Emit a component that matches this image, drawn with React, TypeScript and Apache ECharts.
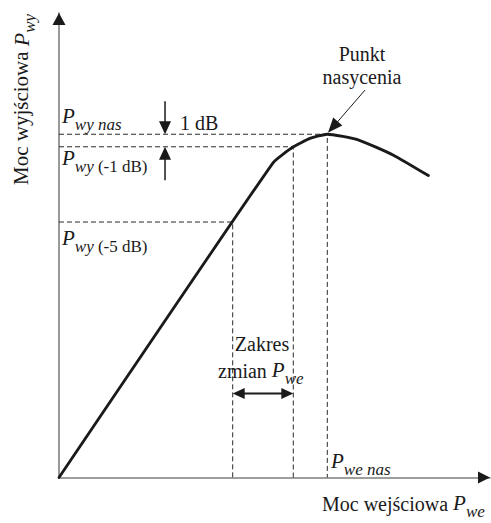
import React, { useEffect, useRef } from 'react';
import * as echarts from 'echarts';

// ---- data (chart units: both axes 0..100) ----
const curveX = [0, 49.7, 54.36, 58.24, 62.25, 69.4, 77.6, 85.7];
const curveY = [0, 67.8, 71.2, 73.0, 73.9, 72.7, 69.4, 65.0];

const satPoint = [62.25, 73.9];
const minus1Point = [54.36, 71.2];
const minus5Point = [40.3, 55.0];

// annotation arrows: from -> to (tip at "to")
const arrowFrom = [
  [0, 97],
  [97, 0],
  [24.6, 81.0],
  [24.6, 64.0],
  [40.3, 18.1],
  [71.0, 83.4],
];
const arrowTo = [
  [0, 100],
  [100, 0],
  [24.6, 73.9],
  [24.6, 71.2],
  [54.36, 18.1],
  [62.4, 74.2],
];
const arrowKind = ['head', 'head', 'single', 'single', 'double', 'single'];

// arrow styles (px)
const arrowHeadLen = [12, 12, 13, 13, 12, 15];
const arrowHeadW = [13, 12, 12, 12, 11, 12];
const arrowShaftW = [0, 0, 1.5, 1.5, 2, 1];

const INK = '#1a1a1a';
const FONT = '"Liberation Serif", "Times New Roman", serif';

let measureCtx: CanvasRenderingContext2D | null = null;
function measure(t: string, size: number, italic: boolean) {
  if (!measureCtx) measureCtx = document.createElement('canvas').getContext('2d');
  if (!measureCtx) return t.length * size * 0.5;
  measureCtx.font = `${italic ? 'italic ' : ''}${size}px ${FONT}`;
  return measureCtx.measureText(t).width;
}

type Part = [string, number, boolean, number];
function seq(x0: number, base: number, parts: Part[], align: 'left' | 'center' = 'left') {
  let total = 0;
  for (const [t, s, it] of parts) total += measure(t, s, it);
  let x = align === 'center' ? x0 - total / 2 : x0;
  const out: any[] = [];
  for (const [t, size, italic, dy] of parts) {
    out.push({
      type: 'text',
      x,
      y: base + dy - 0.31 * size,
      z: 20,
      style: {
        text: t,
        fontSize: size,
        fontFamily: FONT,
        fontStyle: italic ? 'italic' : 'normal',
        fill: INK,
        align: 'left',
        verticalAlign: 'middle',
      },
    });
    x += measure(t, size, italic);
  }
  return out;
}

function guide(p: number[]) {
  return {
    type: 'line',
    data: [
      [0, p[1]],
      [p[0], p[1]],
      [p[0], 0],
    ],
    symbol: 'none',
    silent: true,
    z: 2,
    lineStyle: { color: '#2a2a2a', width: 1, type: [5, 3] },
  };
}

export default function App() {
  const ref = useRef<HTMLDivElement>(null);
  useEffect(() => {
    if (!ref.current) return;
    const chart = echarts.init(ref.current, null, { renderer: 'svg' });

    const axisCommon = {
      type: 'value',
      min: 0,
      max: 100,
      axisLine: { show: true, onZero: false, lineStyle: { color: '#7f7f7f', width: 1.6 } },
      axisTick: { show: false },
      axisLabel: { show: false },
      splitLine: { show: false },
    };

    const graphics: any[] = [
      ...seq(62, 123, [
        ['P', 21, true, 0],
        ['wy nas', 17, true, 7],
      ]),
      ...seq(180, 129, [['1 dB', 20, false, 0]]),
      ...seq(62, 165, [
        ['P', 21, true, 0],
        ['wy ', 17, true, 7],
        ['(-1 dB)', 17, false, 7],
      ]),
      ...seq(62, 245, [
        ['P', 21, true, 0],
        ['wy ', 17, true, 7],
        ['(-5 dB)', 17, false, 7],
      ]),
      ...seq(331, 468, [
        ['P', 21, true, 0],
        ['we nas', 17, true, 7],
      ]),
      ...seq(362, 60, [['Punkt', 20, false, 0]], 'center'),
      ...seq(362, 83, [['nasycenia', 20, false, 0]], 'center'),
      ...seq(262, 350, [['Zakres', 20, false, 0]], 'center'),
      ...seq(218, 377, [
        ['zmian ', 20, false, 0],
        ['P', 21, true, 0],
        ['we', 17, true, 7],
      ]),
      ...seq(322, 510, [
        ['Moc wejściowa ', 20, false, 0],
        ['P', 21, true, 0],
        ['we', 17, true, 7],
      ]),
      {
        type: 'group',
        x: 28,
        y: 185,
        rotation: Math.PI / 2,
        children: seq(0, 0, [
          ['Moc wyjściowa ', 21, false, 0],
          ['P', 22, true, 0],
          ['wy', 17, true, 7],
        ]),
      },
    ];

    chart.setOption({
      animation: false,
      backgroundColor: '#ffffff',
      grid: { left: 59, top: 13, width: 431, height: 464.5, containLabel: false },
      xAxis: axisCommon,
      yAxis: axisCommon,
      graphic: graphics,
      series: [
        guide(satPoint),
        guide(minus1Point),
        guide(minus5Point),
        {
          type: 'line',
          data: curveX.map((x, i) => [x, curveY[i]]),
          symbol: 'none',
          silent: true,
          z: 5,
          smooth: 0.15,
          lineStyle: { color: INK, width: 2.8, cap: 'round', join: 'round' },
        },
        {
          type: 'custom',
          z: 10,
          silent: true,
          clip: false,
          data: arrowFrom.map((p, i) => [p[0], p[1], arrowTo[i][0], arrowTo[i][1]]),
          renderItem: (params: any, api: any) => {
            const i = params.dataIndex;
            const a = api.coord([api.value(0), api.value(1)]);
            const b = api.coord([api.value(2), api.value(3)]);
            const dx = b[0] - a[0];
            const dy = b[1] - a[1];
            const L = Math.hypot(dx, dy) || 1;
            const ux = dx / L;
            const uy = dy / L;
            const len = arrowHeadLen[i];
            const w = arrowHeadW[i];
            const head = (tip: number[], sx: number, sy: number) => {
              const bx = tip[0] - sx * len;
              const by = tip[1] - sy * len;
              const px = -sy * (w / 2);
              const py = sx * (w / 2);
              return {
                type: 'polygon',
                shape: { points: [tip, [bx + px, by + py], [bx - px, by - py]] },
                style: { fill: INK, stroke: null },
              };
            };
            const children: any[] = [];
            const kind = arrowKind[i];
            if (arrowShaftW[i] > 0) {
              const s0 =
                kind === 'double' ? [a[0] + ux * len * 0.8, a[1] + uy * len * 0.8] : a;
              const s1 = [b[0] - ux * len * 0.8, b[1] - uy * len * 0.8];
              children.push({
                type: 'line',
                shape: { x1: s0[0], y1: s0[1], x2: s1[0], y2: s1[1] },
                style: { stroke: INK, lineWidth: arrowShaftW[i] },
              });
            }
            children.push(head(b, ux, uy));
            if (kind === 'double') children.push(head(a, -ux, -uy));
            return { type: 'group', children };
          },
        },
      ],
    });
    return () => chart.dispose();
  }, []);
  return (
    <div
      ref={ref}
      style={{ position: 'fixed', left: 0, top: 0, width: 491, height: 523, background: '#fff' }}
    />
  );
}
